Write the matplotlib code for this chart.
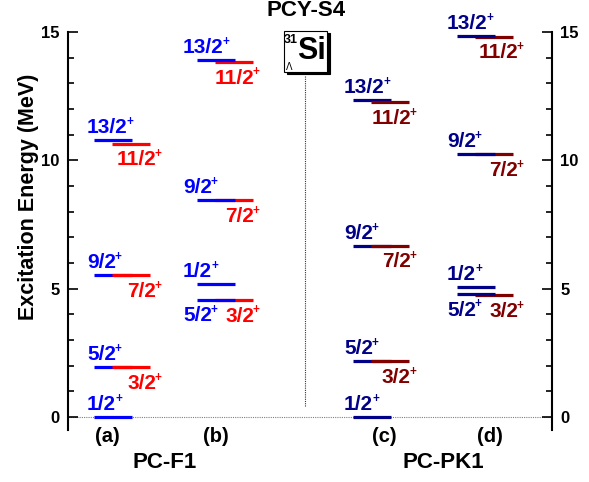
import matplotlib
matplotlib.use('Agg')
import matplotlib.pyplot as plt
from matplotlib.patches import Rectangle

plt.rcParams['font.family'] = ['Liberation Sans', 'DejaVu Sans']
plt.rcParams['font.weight'] = 'bold'

# level energies (MeV)
a_blue_spin = ['1/2', '5/2', '9/2', '13/2']
a_blue_E = [0.0, 1.95, 5.53, 10.78]
a_red_spin = ['3/2', '7/2', '11/2']
a_red_E = [1.95, 5.53, 10.65]

b_blue_spin = ['5/2', '1/2', '9/2', '13/2']
b_blue_E = [4.56, 5.19, 8.45, 13.90]
b_red_spin = ['3/2', '7/2', '11/2']
b_red_E = [4.56, 8.45, 13.83]

c_blue_spin = ['1/2', '5/2', '9/2', '13/2']
c_blue_E = [0.0, 2.18, 6.67, 12.35]
c_red_spin = ['3/2', '7/2', '11/2']
c_red_E = [2.18, 6.67, 12.26]

d_blue_spin = ['5/2', '1/2', '9/2', '13/2']
d_blue_E = [4.78, 5.06, 10.24, 14.86]
d_red_spin = ['3/2', '7/2', '11/2']
d_red_E = [4.75, 10.24, 14.82]

panel_names = ['(a)', '(b)', '(c)', '(d)']
blue_cols = ['#0000ff', '#0000ff', '#000088', '#000088']
red_cols = ['#ff0000', '#ff0000', '#800000', '#800000']

panels = [
    (a_blue_spin, a_blue_E, a_red_spin, a_red_E),
    (b_blue_spin, b_blue_E, b_red_spin, b_red_E),
    (c_blue_spin, c_blue_E, c_red_spin, c_red_E),
    (d_blue_spin, d_blue_E, d_red_spin, d_red_E),
]

# layout (x in axis pixels from left spine)
W, H = 589, 482
col_x = [26, 129, 285, 389]
bar_len = 38
red_shift = 18
blue_lab_dx = [-7, -14, -9, -10]
red_lab_dx = [6, 1, 2, 5]
red_on_top = [True, False, True, False]
panel_lab_x = [107, 216, 384, 490]


def fx(px):
    return px / W


def fy(py):
    return 1 - py / H


def spin_label(ax, s, xy, dx, dy, ha, color):
    t = ax.annotate(s, xy, xytext=(dx, dy), textcoords='offset points',
                    ha=ha, va='baseline', color=color, fontsize=15,
                    fontweight='bold', zorder=6)
    ax.annotate('+', xy=(1, 1), xycoords=t, xytext=(-0.8, -2.8),
                textcoords='offset points', ha='left', va='center',
                color=color, fontsize=8.5, fontweight='bold', zorder=6)


fig = plt.figure(figsize=(5.89, 4.82), dpi=100)
ax = fig.add_axes([fx(68), fy(430), 484 / W, 398 / H])
ax.set_xlim(0, 484)
ax.set_ylim(-0.5, 15)

ax.axhline(0, color='gray', lw=0.8, ls=(0, (1, 1)), zorder=1)
ax.plot([237, 237], [0.43, 13.32], color='#333333', lw=0.8, ls=(0, (1, 1)), zorder=1)

for i, (bs, be, rs, re_) in enumerate(panels):
    x0 = col_x[i]
    zb, zr = (3, 4) if red_on_top[i] else (4, 3)
    for k, (s, e) in enumerate(zip(bs, be)):
        ax.plot([x0, x0 + bar_len], [e, e], color=blue_cols[i], lw=2.3,
                solid_capstyle='butt', zorder=zb)
        below = k + 1 < len(be) and be[k + 1] - e < 1.0
        dy = -15.2 if below else 5
        spin_label(ax, s, (x0, e), blue_lab_dx[i] * 0.72, dy, 'left', blue_cols[i])
    for s, e in zip(rs, re_):
        xr = x0 + red_shift
        ax.plot([xr, xr + bar_len], [e, e], color=red_cols[i], lw=2.3,
                solid_capstyle='butt', zorder=zr)
        spin_label(ax, s, (xr + bar_len, e), red_lab_dx[i] * 0.72, -15.5,
                   'right', red_cols[i])

for sp in ['top', 'bottom']:
    ax.spines[sp].set_visible(False)
for sp in ['left', 'right']:
    ax.spines[sp].set_linewidth(1.5)
ax.set_xticks([])
ax.set_yticks([0, 5, 10, 15])
ax.set_yticks(range(0, 16), minor=True)
ax.tick_params(axis='y', which='both', direction='in', left=True, right=True,
               labelleft=True, labelright=True, width=1.2)
ax.tick_params(axis='y', which='major', length=7, pad=6, labelsize=12)
ax.tick_params(axis='y', which='minor', length=4)
for t in ax.get_yticklabels():
    t.set_fontweight('bold')

fig.text(fx(29), fy(197), 'Excitation Energy (MeV)', rotation=90,
         ha='center', va='center', fontsize=15.5, fontweight='bold')

for i, name in enumerate(panel_names):
    fig.text(fx(panel_lab_x[i]), fy(437), name, ha='center', va='center',
             fontsize=14.5, fontweight='bold')
fig.text(fx(165), fy(463), 'PC-F1', ha='center', va='center', fontsize=16, fontweight='bold')
fig.text(fx(443), fy(463), 'PC-PK1', ha='center', va='center', fontsize=16, fontweight='bold')
fig.text(fx(306), fy(11), 'PCY-S4', ha='center', va='center', fontsize=16, fontweight='bold')

# 31Si box with shadow
fig.add_artist(Rectangle((fx(287), fy(74)), 43 / W, 41 / H, transform=fig.transFigure,
                         facecolor='black', edgecolor='black', lw=0.8, zorder=5))
fig.add_artist(Rectangle((fx(284), fy(72)), 43 / W, 41 / H, transform=fig.transFigure,
                         facecolor='white', edgecolor='black', lw=0.8, zorder=6))
fig.text(fx(311), fy(51), 'Si', ha='center', va='center', fontsize=22,
         fontweight='bold', zorder=7)
fig.text(fx(290.5), fy(40), '31', ha='center', va='center', fontsize=9,
         fontweight='bold', zorder=7)
fig.text(fx(289.5), fy(67), 'Λ', ha='center', va='center', fontsize=7,
         fontweight='normal', zorder=7)

fig.savefig('out.png', dpi=100)
